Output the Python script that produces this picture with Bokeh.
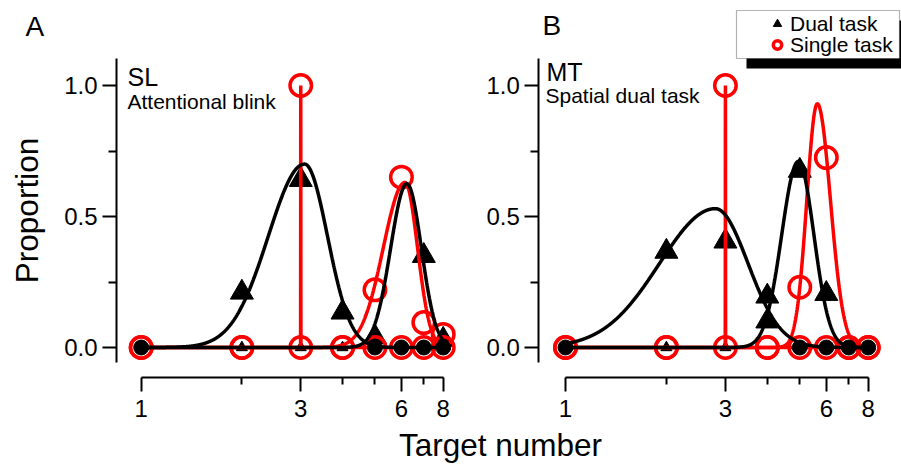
import numpy as np
from bokeh.plotting import figure
from bokeh.models import (Range1d, LogScale, LogAxis, LinearAxis, FixedTicker,
                          BasicTickFormatter, NumeralTickFormatter, Label,
                          BoxAnnotation, Legend, LegendItem)
from bokeh.embed import file_html
from bokeh.resources import INLINE

FONT = "Liberation Sans"
RED = "#ff0000"
BLACK = "#000000"

# ---------------- data ----------------
target = [1, 2, 3, 4, 5, 6, 7, 8]
x_ticks = [1, 3, 6, 8]
x_minor_ticks = [2, 4, 5, 7]
y_ticks = [0.0, 0.5, 1.0]
y_minor_ticks = [0.25, 0.75]
legend_labels = ["Dual task", "Single task"]

# Panel A  (SL, attentional blink)
A_dual_t1 = [0.0, 0.21, 0.64, 0.134, 0.04, 0.0, 0.0, 0.0]
A_dual_t2 = [0.0, 0.0, 0.0, 0.0, 0.0, 0.0, 0.35, 0.03]
A_single_t1 = [0.0, 0.0, 1.0, 0.0, 0.0, 0.0, 0.0, 0.0]
A_single_t2 = [0.0, 0.0, 0.0, 0.0, 0.22, 0.65, 0.095, 0.05]
A_dual_zero_full = [1, 5, 6, 7, 8]
A_dual_zero_small = [2, 3, 4]
# fitted curves: (amplitude, peak target, log-sigma left, log-sigma right)
A_dual_fits = [(0.70, 3.08, 0.25, 0.158), (0.625, 6.23, 0.112, 0.10)]
A_single_fits = [(1.0, 3.0, 0.0005, 0.0005), (0.63, 6.15, 0.149, 0.086)]

# Panel B  (MT, spatial dual task)
B_dual_t1 = [0.0, 0.366, 0.405, 0.195, 0.0, 0.0, 0.0, 0.0]
B_dual_t2 = [0.0, 0.0, 0.0, 0.10, 0.675, 0.205, 0.0, 0.0]
B_single_t1 = [0.0, 0.0, 1.0, 0.0, 0.0, 0.0, 0.0, 0.0]
B_single_t2 = [0.0, 0.0, 0.0, 0.0, 0.23, 0.725, 0.0, 0.0]
B_dual_zero_full = [1, 5, 6, 7, 8]
B_dual_zero_small = [2, 3]
B_dual_fits = [(0.53, 2.8, 0.383, 0.224), (0.71, 4.95, 0.114, 0.107)]
B_single_fits = [(1.0, 3.0, 0.0005, 0.0005), (0.93, 5.64, 0.072, 0.09)]

# ---------------- layout geometry (page pixels) ----------------
W, H = 901, 464
M = 0                        # canvas origin on the page
Y0_PX, Y_PER = 347.0, 262.0  # pixel of y=0, pixels per unit
A_PX1, A_PX8 = 140.7, 442.7
B_PX1, B_PX8 = 565.0, 867.7


def yv(py):
    return (Y0_PX - py) / Y_PER


def log_k(px1, px8):
    return (px8 - px1) / np.log(8)


def xval(px, px1, px8):
    return float(np.exp((px - px1) / log_k(px1, px8)))


def xa(px):
    return xval(px, A_PX1, A_PX8)


x_range_A = Range1d(xa(M), xa(M + W))
x_range_B = Range1d(xval(M, B_PX1, B_PX8), xval(M + W, B_PX1, B_PX8))
y_range = Range1d(yv(M + H), yv(M))

p = figure(width=W, height=H, x_axis_type=None, y_axis_type=None,
           x_range=x_range_A, y_range=y_range,
           output_backend="svg", toolbar_location=None, min_border=0,
           outline_line_color=None, background_fill_color="white",
           border_fill_color="white")
p.x_scale = LogScale()
p.extra_x_ranges = {"B": x_range_B}
p.extra_x_scales = {"B": LogScale()}


def fit_curve(amp, peak, sl, sr):
    mu = np.log(peak)
    ks = np.array([0, 0.25, 0.5, 1, 1.5, 2, 3, 4])
    u = np.concatenate([np.linspace(0, np.log(8), 1500), mu - sl * ks, mu + sr * ks])
    u = np.unique(np.clip(u, 0, np.log(8)))
    sig = np.where(u < mu, sl, sr)
    y = amp * np.exp(-(u - mu) ** 2 / (2 * sig ** 2))
    return np.exp(u), y


def panel(rn, dual_t1, dual_t2, single_t1, single_t2, zero_full, zero_small,
          dual_fits, single_fits):
    tx, ty = [], []
    for series in (dual_t1, dual_t2):
        for xv_, yv_ in zip(target, series):
            if yv_ > 0:
                tx.append(xv_)
                ty.append(yv_)
    tri = p.scatter(tx, ty, marker="triangle", size=23, fill_color=BLACK,
                    line_color=BLACK, line_width=1, x_range_name=rn)
    p.scatter(zero_small, [0.0] * len(zero_small), marker="triangle", size=11,
              fill_color=BLACK, line_color=BLACK, x_range_name=rn)
    for prm in single_fits:
        cx, cy = fit_curve(*prm)
        p.line(cx, cy, line_color=RED, line_width=3.5, x_range_name=rn)
    rings = []
    for series in (single_t1, single_t2):
        rings.append(p.scatter(target, series, marker="circle", size=21.5,
                               fill_color=None, line_color=RED, line_width=3.5,
                               x_range_name=rn))
    for prm in dual_fits:
        cx, cy = fit_curve(*prm)
        p.line(cx, cy, line_color=BLACK, line_width=3.5, x_range_name=rn)
    p.scatter(zero_full, [0.0] * len(zero_full), marker="circle", size=15,
              fill_color=BLACK, line_color=BLACK, x_range_name=rn)
    return tri, rings[1]


panel("default", A_dual_t1, A_dual_t2, A_single_t1, A_single_t2,
      A_dual_zero_full, A_dual_zero_small, A_dual_fits, A_single_fits)
tri_B, ring_B = panel("B", B_dual_t1, B_dual_t2, B_single_t1, B_single_t2,
                      B_dual_zero_full, B_dual_zero_small, B_dual_fits, B_single_fits)

# ---------------- axes ----------------
X_AXIS_Y = yv(376.5)
for rn in ("default", "B"):
    ax = LogAxis(x_range_name=rn,
                 ticker=FixedTicker(ticks=x_ticks, minor_ticks=x_minor_ticks),
                 formatter=BasicTickFormatter(), bounds=(1, 8),
                 fixed_location=X_AXIS_Y)
    ax.axis_line_width = 2
    ax.major_tick_line_width = 2
    ax.minor_tick_line_width = 2
    ax.major_tick_in = 0
    ax.major_tick_out = 14
    ax.minor_tick_in = 0
    ax.minor_tick_out = 7
    ax.major_label_standoff = 9
    ax.major_label_text_font = FONT
    ax.major_label_text_font_size = "24px"
    ax.major_label_text_color = BLACK
    p.add_layout(ax, "below")

for rn, loc in (("default", xa(116.0)), ("B", xval(538.3, B_PX1, B_PX8))):
    ay = LinearAxis(x_range_name=rn,
                    ticker=FixedTicker(ticks=y_ticks, minor_ticks=y_minor_ticks),
                    formatter=NumeralTickFormatter(format="0.0"),
                    bounds=(yv(362), yv(58)), fixed_location=loc)
    ay.axis_line_width = 2
    ay.major_tick_line_width = 2
    ay.minor_tick_line_width = 2
    ay.major_tick_in = 0
    ay.major_tick_out = 14
    ay.minor_tick_in = 0
    ay.minor_tick_out = 8
    ay.major_label_standoff = 5
    ay.major_label_text_font = FONT
    ay.major_label_text_font_size = "24px"
    ay.major_label_text_color = BLACK
    p.add_layout(ay, "left")


# ---------------- texts ----------------
def label(text, px, py, size, align="left", rotated=False):
    fs = float(size.replace("px", ""))
    shift = 0.33 * fs   # renderer places alphabetic baseline lower; compensate
    if rotated:
        px -= shift
    else:
        py -= shift
    p.add_layout(Label(x=xa(px), y=yv(py), text=text, text_font=FONT,
                       text_font_size=size, text_align=align,
                       text_baseline="alphabetic",
                       angle=(np.pi / 2 if rotated else 0.0),
                       text_color=BLACK))


label("A", 25, 35, "28px")
label("B", 542, 34, "28px")
label("SL", 127, 85, "25px")
label("Attentional blink", 127, 108, "21px")
label("MT", 546, 80, "25px")
label("Spatial dual task", 545, 102, "21px")
label("Proportion", 37, 210, "31.5px", align="center", rotated=True)
label("Target number", 500, 455, "31.5px", align="center")

# ---------------- legend ----------------
p.add_layout(BoxAnnotation(left=xa(746), right=xa(912), top=yv(20), bottom=yv(68),
                           fill_color=BLACK, fill_alpha=1, line_color=None))
p.add_layout(BoxAnnotation(left=xa(736), right=xa(899), top=yv(10), bottom=yv(58),
                           fill_color="white", fill_alpha=1, line_color=BLACK,
                           line_width=1.2))
ROW_HALF = 12.25
for text, rend, row_center in ((legend_labels[0], tri_B, 23.5),
                               (legend_labels[1], ring_B, 44.5)):
    lg = Legend(items=[LegendItem(label=text, renderers=[rend])],
                location=(766 - M, H - (row_center + ROW_HALF - M)),
                border_line_color=None, background_fill_alpha=0,
                padding=0, margin=0, spacing=0, glyph_width=22, glyph_height=21,
                label_height=21, label_standoff=2,
                label_text_font=FONT, label_text_font_size="21px",
                label_text_color=BLACK)
    p.add_layout(lg, "center")

open("out.html", "w").write(file_html(p, INLINE))
